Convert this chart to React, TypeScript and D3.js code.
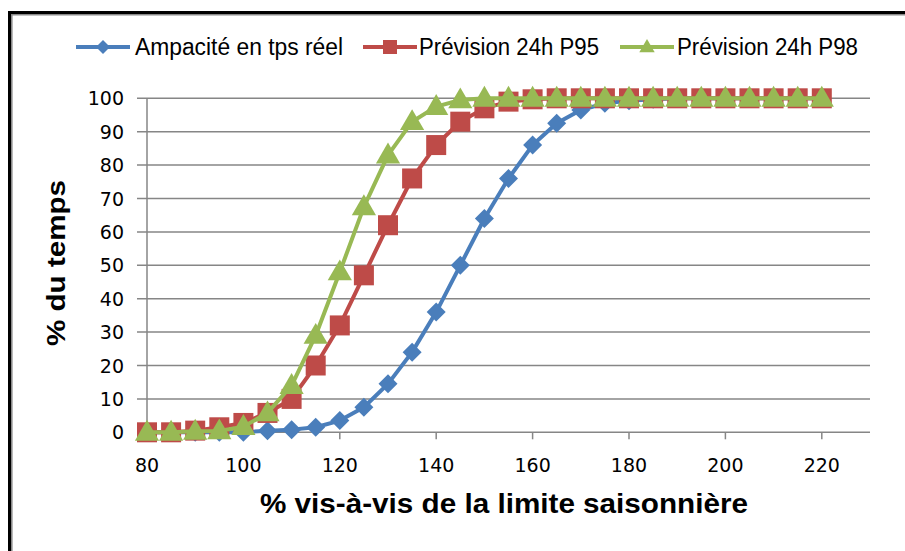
import React from "react";
import * as d3 from "d3";

const xValues = [80, 85, 90, 95, 100, 105, 110, 115, 120, 125, 130, 135, 140, 145, 150, 155, 160, 165, 170, 175, 180, 185, 190, 195, 200, 205, 210, 215, 220];
const ampaciteReel = [0, 0, 0, 0, 0, 0.5, 0.8, 1.5, 3.5, 7.5, 14.5, 24, 36, 50, 64, 76, 86, 92.5, 96.5, 98.5, 99.3, 99.7, 100, 100, 100, 100, 100, 100, 100];
const previsionP95 = [0, 0, 0.5, 1.5, 2.8, 5.8, 10, 20, 32, 47, 62, 76, 86, 93, 97, 99, 99.7, 100, 100, 100, 100, 100, 100, 100, 100, 100, 100, 100, 100];
const previsionP98 = [0, 0, 0.3, 0.4, 1.7, 5.8, 14, 29, 48, 67.5, 83, 93, 97.5, 99.5, 100, 100, 100, 100, 100, 100, 100, 100, 100, 100, 100, 100, 100, 100, 100];
const seriesNames = ["Ampacité en tps réel", "Prévision 24h P95", "Prévision 24h P98"];
const seriesColors = ["#4A7EBB", "#BE4B48", "#98B954"];
const xTicks = [80, 100, 120, 140, 160, 180, 200, 220];
const yTicks = [0, 10, 20, 30, 40, 50, 60, 70, 80, 90, 100];
const xTitle = "% vis-à-vis de la limite saisonnière";
const yTitle = "% du temps";

const W = 905;
const H = 551;
const x = d3.scaleLinear().domain([80, 230]).range([147, 870]);
const y = d3.scaleLinear().domain([0, 100]).range([432.3, 98.3]);

type Shape = "diamond" | "square" | "triangle";
const shapes: Shape[] = ["diamond", "square", "triangle"];

function Marker({ shape, cx, cy, color, s }: { shape: Shape; cx: number; cy: number; color: string; s: number }) {
  if (shape === "diamond") {
    const r = s * 0.5;
    return <path d={`M${cx},${cy - r}L${cx + r},${cy}L${cx},${cy + r}L${cx - r},${cy}Z`} fill={color} />;
  }
  if (shape === "square") {
    const r = s * 0.5;
    return <rect x={cx - r} y={cy - r} width={s} height={s} fill={color} />;
  }
  const hw = s * 0.55;
  const h = s * 0.95;
  return <path d={`M${cx},${cy - h * 0.6}L${cx + hw},${cy + h * 0.4}L${cx - hw},${cy + h * 0.4}Z`} fill={color} />;
}

export default function App() {
  const data = [ampaciteReel, previsionP95, previsionP98];
  const line = d3
    .line<number>()
    .x((_, i) => x(xValues[i]))
    .y((v) => y(v));
  const markerSizes = [19, 20, 22];
  const legendItems = [
    { lx: 76, tx: 135, tw: 208 },
    { lx: 363, tx: 419, tw: 180 },
    { lx: 620, tx: 677, tw: 181 },
  ];
  const [x0, x1] = x.range();

  return (
    <svg width={W} height={H} style={{ position: "absolute", left: 0, top: 0, background: "#fff" }}>
      <rect x={0} y={0} width={W} height={H} fill="#fff" />
      {/* chart frame */}
      <line x1={8} y1={12.5} x2={W} y2={12.5} stroke="#000" strokeWidth={3} />
      <line x1={9.5} y1={11} x2={9.5} y2={H} stroke="#000" strokeWidth={3} />
      <line x1={11} y1={14.8} x2={W} y2={14.8} stroke="#8a8a8a" strokeWidth={1.6} />
      <line x1={11.8} y1={14} x2={11.8} y2={H} stroke="#8a8a8a" strokeWidth={1.6} />

      {/* gridlines */}
      {yTicks.map((t) => (
        <line key={t} x1={137} x2={x1} y1={y(t)} y2={y(t)} stroke="#868686" strokeWidth={1.5} />
      ))}
      <line x1={x0} x2={x0} y1={y(100)} y2={y(0)} stroke="#868686" strokeWidth={1.5} />
      {xTicks.map((t) => (
        <line key={t} x1={x(t)} x2={x(t)} y1={y(0)} y2={y(0) + 7} stroke="#868686" strokeWidth={1.5} />
      ))}

      {/* tick labels */}
      <g fontFamily="DejaVu Sans" fontSize={19} fill="#000">
        {yTicks.map((t) => (
          <text key={t} x={124} y={y(t)} textAnchor="end" dominantBaseline="central">
            {t}
          </text>
        ))}
        {xTicks.map((t) => (
          <text key={t} x={x(t)} y={465} textAnchor="middle" dominantBaseline="central">
            {t}
          </text>
        ))}
      </g>

      {/* series */}
      {data.map((vals, si) => (
        <g key={si}>
          <path d={line(vals) ?? ""} fill="none" stroke={seriesColors[si]} strokeWidth={4} strokeLinejoin="round" />
          {vals.map((v, i) => (
            <Marker key={i} shape={shapes[si]} cx={x(xValues[i])} cy={y(v)} color={seriesColors[si]} s={markerSizes[si]} />
          ))}
        </g>
      ))}

      {/* legend */}
      {legendItems.map((it, i) => (
        <g key={i}>
          <line x1={it.lx} x2={it.lx + 54} y1={47} y2={47} stroke={seriesColors[i]} strokeWidth={4} />
          <Marker shape={shapes[i]} cx={it.lx + 27} cy={47} color={seriesColors[i]} s={14} />
          <text
            x={it.tx}
            y={47}
            dominantBaseline="central"
            fontFamily="Liberation Sans"
            fontSize={23}
            textLength={it.tw}
            lengthAdjust="spacingAndGlyphs"
            fill="#000"
          >
            {seriesNames[i]}
          </text>
        </g>
      ))}

      {/* axis titles */}
      <text
        x={504}
        y={513}
        textAnchor="middle"
        fontFamily="Liberation Sans"
        fontWeight="bold"
        fontSize={28}
        textLength={488}
        lengthAdjust="spacingAndGlyphs"
        fill="#000"
      >
        {xTitle}
      </text>
      <text
        transform="translate(65,263) rotate(-90)"
        textAnchor="middle"
        fontFamily="Liberation Sans"
        fontWeight="bold"
        fontSize={25}
        textLength={166}
        lengthAdjust="spacingAndGlyphs"
        fill="#000"
      >
        {yTitle}
      </text>
    </svg>
  );
}
